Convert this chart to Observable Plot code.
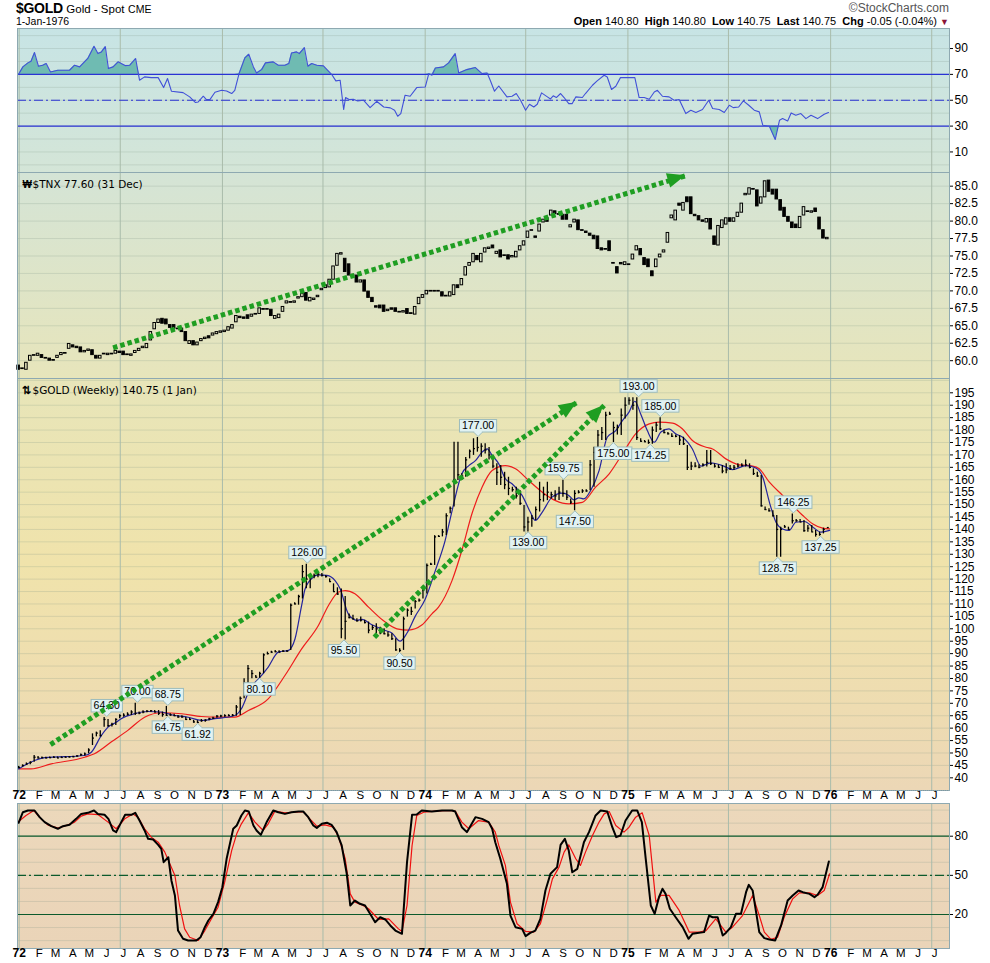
<!DOCTYPE html>
<html><head><meta charset="utf-8">
<script src="https://cdn.jsdelivr.net/npm/d3@7"></script>
<script src="https://cdn.jsdelivr.net/npm/@observablehq/plot@0.6"></script>
<style>
html,body{margin:0;padding:0;background:#fff;overflow:hidden;}
#chart{position:relative;width:990px;height:963px;font-family:"Liberation Sans",Arial,sans-serif;color:#000;}
.hdr{position:absolute;white-space:pre;}
</style></head>
<body><div id="chart">
<div class="hdr" style="left:16px;top:0px;font:bold 14px 'Liberation Sans',Arial;letter-spacing:-0.3px">$GOLD <span style="font:11.5px 'Liberation Sans',Arial;letter-spacing:0">Gold - Spot</span> <span style="font:10.5px 'Liberation Sans',Arial;letter-spacing:0">CME</span></div>
<div class="hdr" style="left:16px;top:15px;font:10.5px 'Liberation Sans',Arial">1-Jan-1976</div>
<div class="hdr" style="right:41px;top:1px;font:12px 'Liberation Sans',Arial;color:#555">©StockCharts.com</div>
<div class="hdr" style="right:41px;top:15px;font:11px 'Liberation Sans',Arial"><b>Open</b> 140.80  <b>High</b> 140.80  <b>Low</b> 140.75  <b>Last</b> 140.75  <b>Chg</b> -0.05 (-0.04%) <span style="color:#8b1538;font-size:9px">▼</span></div>
</div>
<script>
// ---------------- DATA ----------------
const yearLabels = ["72","73","74","75","76"];
const monthLetters = ["J","F","M","A","M","J","J","A","S","O","N","D"];
const rsiTicks = [10,30,50,70,90];
const stochTicks = [20,50,80];
const tnxTicks = [60,62.5,65,67.5,70,72.5,75,77.5,80,82.5,85];
const goldTicks = [40,45,50,55,60,65,70,75,80,85,90,95,100,105,110,115,120,125,130,135,140,145,150,155,160,165,170,175,180,185,190,195];

// weekly gold (Friday bars from 31-Dec-1971), index 0..208
const goldHigh = [44.6,45.2,46.0,46.5,49.0,48.6,48.4,48.3,48.4,48.5,48.4,48.4,48.5,48.6,48.7,49.0,49.6,50.0,51.7,57.7,58.4,59.0,64.3,63.5,62.0,63.8,65.4,65.8,66.2,67.0,70.0,66.5,67.0,67.1,67.1,67.1,67.1,66.5,68.75,65.8,65.6,65.1,65.0,64.4,64.0,63.1,63.0,63.5,63.4,64.0,64.4,65.1,65.2,
65.4,65.4,65.5,69.1,72.5,79.9,85.2,83.2,81.2,82.5,89.9,90.6,91.0,91.3,91.2,91.3,91.3,110.0,110.5,113.5,125.5,126.0,121.0,122.1,122.8,122.3,121.5,120.1,118.1,116.5,116.0,113.0,106.0,105.5,104.0,104.7,103.4,102.7,101.3,102.0,100.6,100.0,98.7,98.0,96.0,92.0,104.7,108.0,108.7,111.4,112.0,116.0,
126.1,126.4,137.5,137.5,140.0,146.3,149.0,175.1,175.1,162.4,169.0,172.0,176.5,177.0,174.5,174.5,173.0,169.8,166.4,165.7,163.0,161.0,157.0,157.0,155.6,149.6,144.9,145.6,149.0,159.0,157.0,159.0,155.0,155.6,157.0,159.75,155.6,152.3,155.6,155.6,156.0,156.0,167.7,173.1,179.8,181.0,187.2,187.2,183.2,182.0,188.5,193.0,193.0,193.0,193.0,
176.5,175.8,176.0,181.2,183.0,185.0,180.0,179.0,178.5,178.0,177.8,177.1,173.8,167.0,166.8,166.0,166.4,171.8,171.8,166.4,166.0,165.7,166.4,165.7,165.7,166.4,166.4,168.0,166.4,164.4,163.0,161.7,149.0,148.3,147.5,145.6,140.9,141.6,140.9,146.25,144.0,144.0,143.6,141.6,141.6,139.6,138.9,140.5,140.8];
const goldLow = [43.6,44.3,45.0,45.3,46.3,47.6,47.7,47.7,47.8,47.9,47.8,47.8,48.0,48.0,48.1,48.3,48.6,48.8,49.7,53.0,56.5,56.4,60.4,60.4,60.5,61.1,63.8,64.4,64.9,65.1,65.1,65.4,65.8,66.2,66.4,66.2,65.1,64.4,64.75,64.8,64.8,64.0,64.0,63.1,63.1,62.0,61.92,62.4,62.4,63.0,63.5,64.0,64.2,
64.4,64.6,64.6,64.8,65.1,71.8,77.2,79.9,80.3,80.1,81.9,89.5,90.2,90.4,90.4,90.5,90.6,91.3,109.7,109.5,112.0,116.1,116.1,120.1,120.5,120.8,120.4,118.8,114.7,113.5,96.0,95.5,104.0,103.5,102.7,102.7,102.0,98.0,99.3,98.0,97.6,97.6,96.6,95.3,91.0,90.5,91.3,104.7,105.4,108.0,110.7,112.0,
114.0,125.5,125.5,136.9,137.0,137.6,146.3,149.0,159.7,159.7,161.0,168.4,169.8,171.1,169.1,170.4,168.0,164.4,157.7,157.7,156.0,153.6,155.0,152.3,149.6,139.0,139.0,140.9,143.6,147.0,151.0,151.6,152.3,151.6,151.6,153.0,151.6,150.0,147.5,154.3,154.5,155.0,155.6,157.0,167.7,175.8,175.8,185.9,175.0,178.0,177.8,184.5,190.0,188.0,175.8,
175.1,175.1,174.25,174.25,179.0,179.8,178.5,178.0,177.0,176.9,173.8,173.8,163.7,163.7,164.8,164.4,165.1,165.1,165.7,164.7,164.5,162.4,162.4,163.7,163.7,164.7,165.1,165.1,164.4,161.7,161.0,149.0,147.6,147.0,145.0,128.75,128.75,140.5,139.6,142.2,142.9,142.9,138.9,138.9,138.9,136.9,137.25,138.2,140.75];
const goldClose = [44.2,45.0,45.6,46.2,48.3,48.0,48.1,48.0,48.1,48.3,48.0,48.2,48.3,48.4,48.5,48.8,49.3,49.6,51.2,56.0,58.0,57.0,63.5,61.0,61.5,63.5,65.0,65.2,65.6,66.5,66.0,66.0,66.5,66.8,67.0,66.5,66.0,65.5,65.2,65.3,65.0,64.5,64.5,63.5,63.5,62.5,62.3,63.0,63.2,63.8,64.0,64.8,64.9,
65.0,65.1,65.2,68.5,72.0,78.0,84.0,82.0,80.5,82.0,89.5,90.0,90.6,90.8,90.6,91.0,91.0,109.5,110.0,113.0,123.0,120.0,120.5,121.5,122.0,121.5,121.0,119.0,115.0,114.0,100.0,103.0,104.5,104.0,103.2,103.5,102.5,99.5,100.5,100.0,98.5,98.0,97.5,96.0,91.5,91.3,104.0,107.5,107.0,111.0,111.5,115.5,
125.5,126.0,137.0,137.2,139.0,145.5,148.5,160.0,162.0,161.5,168.0,171.5,172.5,173.0,173.5,172.0,170.0,165.5,163.0,161.0,158.0,156.5,156.0,153.5,150.5,141.0,143.0,144.5,148.0,152.0,154.0,155.0,154.0,153.5,155.0,154.5,153.0,151.0,154.5,155.0,155.5,155.5,166.0,171.0,178.0,179.0,186.0,186.5,181.0,181.0,186.0,190.0,192.0,190.0,177.0,
175.5,175.3,175.0,180.0,182.0,180.5,179.0,178.5,177.5,177.5,176.0,174.5,165.0,165.5,165.5,165.0,166.0,167.0,166.5,165.5,165.0,163.5,164.0,164.5,165.0,165.5,165.8,166.0,165.0,162.5,161.5,149.5,148.0,147.5,145.5,140.0,140.0,141.0,140.0,143.5,143.5,143.0,139.5,140.5,139.0,138.0,138.0,140.0,140.75];

// weekly $TNX candles, index 0..208
const tnxOpen = [59.3,58.8,58.7,60.0,60.7,60.7,60.8,60.4,60.3,60.1,60.4,60.8,61.0,61.7,62.2,62.0,61.9,61.2,61.4,61.5,
60.7,60.3,60.9,60.8,61.0,61.0,61.3,61.3,60.9,60.7,61.1,61.4,61.8,61.8,62.9,64.5,65.4,66.0,65.9,65.1,
65.1,64.6,64.6,64.1,62.4,62.8,62.2,62.8,63.1,63.5,63.6,63.8,64.0,64.1,64.3,64.6,65.5,66.3,66.2,66.5,
66.3,66.6,66.7,67.4,67.3,67.3,66.0,66.1,67.0,68.2,68.4,68.3,68.9,69.1,69.7,68.5,68.7,69.1,70.1,70.4,
70.5,71.6,73.6,75.2,74.6,73.8,72.3,72.2,71.2,71.5,69.9,69.0,67.8,67.9,67.9,67.1,67.5,67.5,67.0,66.9,
67.4,66.8,66.6,68.1,69.0,69.5,69.9,70.0,69.9,69.8,69.2,69.2,69.4,70.8,70.8,72.2,73.6,74.1,75.0,74.1,
75.5,76.0,76.5,75.3,75.8,75.0,75.1,74.8,74.8,75.8,76.5,77.6,78.6,77.8,78.5,79.8,80.4,80.8,81.4,81.0,
80.9,80.9,79.1,79.8,80.1,78.7,78.5,78.2,77.9,77.8,76.1,76.0,77.1,74.0,73.4,74.0,73.7,73.8,74.5,75.8,
76.0,74.7,74.5,72.8,73.4,74.8,75.5,76.9,80.4,80.1,82.5,81.5,83.4,83.4,80.9,80.7,80.1,79.8,80.3,77.8,
76.5,79.0,79.5,80.4,79.9,80.6,81.2,83.7,83.8,84.6,84.4,82.5,83.4,85.8,84.5,84.5,83.0,81.9,80.6,79.8,
79.5,79.0,80.8,81.3,81.2,81.8,80.5,78.7,77.4];
const tnxClose = [58.7,58.9,59.7,60.7,60.8,61.0,60.4,60.3,60.0,60.0,60.7,61.1,61.1,62.4,61.9,61.8,61.2,61.4,61.6,60.8,
60.3,60.7,61.0,61.0,60.9,61.4,61.1,60.8,60.8,60.9,61.4,61.7,62.0,62.4,64.1,65.4,65.9,65.3,65.2,64.7,
64.6,64.5,64.1,62.8,62.8,62.2,62.6,63.1,63.3,63.2,63.9,64.1,64.2,64.3,64.8,65.1,66.4,66.1,66.0,66.0,
66.6,66.7,67.5,67.3,67.4,66.4,66.4,66.6,67.7,68.5,68.3,68.5,69.1,69.6,68.6,69.0,68.9,69.3,70.3,70.8,
71.6,73.5,75.3,75.4,72.7,72.2,72.2,71.2,71.5,69.9,69.0,68.4,67.6,67.5,67.0,67.3,67.3,67.0,66.9,67.1,
66.7,66.7,67.7,69.0,69.4,70.0,70.0,69.9,70.0,69.2,69.3,69.8,70.8,70.4,71.7,73.4,74.0,75.3,74.4,75.3,
76.1,76.2,76.1,75.6,74.8,75.1,74.5,75.0,75.6,76.4,77.1,78.5,78.7,77.6,79.5,80.2,79.9,81.5,81.0,80.9,
80.2,80.2,79.4,80.2,78.7,78.6,78.3,77.9,77.4,76.0,75.8,75.9,75.7,73.9,72.5,73.8,74.1,73.7,75.2,76.4,
75.1,73.7,73.4,72.1,74.5,75.2,75.8,78.3,80.8,81.5,82.2,82.6,82.7,81.0,80.7,80.1,79.9,80.3,78.8,76.6,
79.3,80.1,80.4,79.9,80.4,81.2,82.5,83.9,84.7,84.5,82.1,83.4,85.7,84.2,83.8,83.1,81.5,80.6,79.9,79.0,
79.0,80.6,82.0,81.4,81.4,81.3,78.8,77.5,77.6];

// indicator lines: [week index, value]
const rsiPts = [[0,70.1],[1.1,75.8],[2.4,78.9],[3.2,80.2],[4.1,86.9],[5.1,76.3],[6.2,77.1],[7.1,78.4],[8.2,71.9],[10.1,73.2],[13.1,73.2],[14.4,77.1],[15.7,75.8],[17.8,82.3],[19.4,91.8],[20.4,86.1],[21.3,87.4],[22.3,91.5],[23.1,74.5],[24.3,75.8],[25.6,79.7],[26.4,78.4],[27.4,76.8],[28.6,77.1],[30.1,82.3],[31.1,65.5],[32.4,68.1],[34.1,67.5],[35.9,67.5],[37.3,59.8],[38.3,66.8],[39.3,57.0],[42.3,55.9],[44.0,52.6],[45.5,48.2],[46.2,48.7],[47.5,53.1],[48.3,50.5],[49.2,50.5],[50.5,56.2],[52.2,57.7],[53.5,57.2],[54.8,55.2],[55.6,57.7],[56.7,70.6],[58.2,82.8],[59.2,85.6],[60.4,75.8],[61.2,71.1],[62.5,73.7],[63.5,78.9],[65.5,79.7],[66.8,77.1],[68.5,77.1],[69.5,78.4],[70.2,86.6],[71.5,87.4],[72.2,86.1],[73.5,90.7],[74.4,76.3],[75.4,78.4],[76.7,77.1],[78.4,76.6],[80.5,70.1],[81.6,65.0],[82.7,65.5],[83.6,42.8],[84.1,52.1],[85.0,50.5],[86.1,50.8],[87.2,49.5],[88.7,50.0],[90.4,44.3],[92.1,49.2],[93.9,44.8],[95.6,44.1],[96.7,42.3],[97.5,37.6],[98.3,39.7],[99.4,53.9],[100.7,53.1],[102.4,59.8],[104.6,60.3],[105.5,70.6],[106.3,69.3],[107.2,75.0],[109.3,75.8],[110.6,78.9],[112.3,86.1],[113.2,71.1],[115.3,73.7],[117.5,75.3],[119.2,70.6],[120.5,71.1],[121.3,65.5],[122.4,57.0],[123.5,61.0],[125.6,52.6],[126.9,53.1],[128.0,55.2],[129.1,50.0],[130.4,42.3],[131.4,46.9],[132.5,44.8],[133.4,46.9],[134.5,55.7],[136.0,52.6],[136.8,51.0],[137.5,53.4],[138.3,52.1],[139.4,55.2],[140.3,52.1],[141.5,47.4],[142.4,47.4],[143.3,52.6],[145.0,52.1],[145.8,55.2],[147.6,61.6],[148.8,65.0],[150.6,69.3],[151.4,68.0],[152.5,58.3],[153.6,60.8],[154.8,67.5],[156.1,67.5],[158.5,67.5],[159.6,52.1],[160.9,52.1],[162.2,50.8],[163.5,56.4],[164.3,57.7],[165.6,53.1],[167.3,52.6],[168.6,50.0],[169.9,50.5],[171.6,39.7],[172.9,42.3],[174.2,40.5],[175.9,42.8],[177.5,50.0],[178.5,43.6],[180.2,42.8],[181.5,40.5],[182.8,46.1],[183.8,44.3],[185.2,44.8],[186.4,49.5],[187.8,46.1],[189.2,42.3],[190.5,41.0],[191.4,30.7],[193.1,29.9],[194.6,19.6],[195.7,34.5],[196.5,35.8],[197.8,34.0],[198.7,40.2],[199.9,38.4],[201.2,39.7],[202.5,35.8],[203.8,38.4],[205.5,35.8],[207.2,39.2],[208.3,40.5]];

const maFast = [[0,43.6],[4.1,47.0],[6.7,48.1],[17.0,49.0],[18.7,50.3],[21.3,57.1],[23.0,60.4],[25.1,62.4],[26.4,63.8],[29.8,65.8],[33.3,66.7],[36.7,66.5],[39.3,65.4],[43.6,64.4],[47.0,63.1],[50.5,63.8],[55.6,65.1],[57.3,67.8],[59.5,75.8],[62.1,80.5],[64.2,84.6],[66.8,90.6],[69.4,91.3],[71.1,96.0],[72.8,109.4],[73.7,116.1],[75.8,120.8],[77.1,121.7],[79.3,121.5],[81.4,119.4],[82.7,116.1],[84.8,106.0],[87.0,103.4],[88.3,103.8],[90.9,101.6],[94.3,99.3],[96.0,98.3],[98.1,95.0],[99.9,98.3],[102.0,105.0],[104.6,112.0],[107.2,123.5],[109.7,135.5],[111.5,147.6],[114.0,162.4],[115.8,165.7],[117.5,167.7],[119.2,171.1],[120.5,172.4],[121.8,169.8],[123.5,166.4],[125.2,160.4],[126.9,158.4],[129.5,153.7],[131.6,147.0],[132.9,143.6],[134.7,147.0],[137.2,153.0],[139.8,154.6],[141.5,153.7],[142.8,151.9],[144.1,152.7],[145.4,152.3],[147.1,155.6],[149.3,163.7],[151.4,177.1],[153.6,179.8],[155.3,183.8],[157.0,187.2],[158.5,191.6],[160.0,186.5],[161.7,179.8],[163.5,175.1],[165.2,179.2],[167.3,180.5],[169.0,178.5],[170.8,177.1],[173.3,172.4],[175.5,165.5],[178.0,166.8],[181.1,165.7],[183.6,164.1],[187.1,165.7],[189.6,164.7],[191.4,161.0],[193.1,151.0],[194.8,142.9],[196.5,140.2],[198.2,139.6],[199.9,142.9],[202.1,143.2],[204.3,140.9],[206.4,138.9],[208.6,139.6]];

const maSlow = [[0.2,43.6],[3.2,43.6],[8.4,45.6],[17.0,48.3],[19.5,49.7],[23.8,54.4],[28.1,59.1],[32.4,64.4],[36.7,66.2],[41.9,65.8],[47.0,64.7],[51.3,64.4],[55.6,64.4],[59.1,67.1],[64.2,71.8],[68.5,81.2],[72.8,91.9],[77.1,101.3],[79.7,109.4],[82.3,114.8],[84.0,115.4],[86.5,114.1],[90.0,108.7],[93.7,103.4],[97.3,100.0],[100.3,99.5],[103.7,101.5],[106.3,106.0],[108.0,108.7],[111.5,119.5],[114.0,131.5],[116.6,146.3],[119.2,157.0],[121.8,163.7],[125.2,165.7],[127.8,164.4],[131.2,159.7],[134.7,155.0],[138.1,151.6],[141.5,150.3],[145.0,150.9],[148.4,157.0],[151.9,162.4],[155.3,170.4],[158.7,178.5],[162.2,182.5],[164.7,183.2],[168.2,182.8],[170.7,180.5],[173.3,175.8],[176.8,173.1],[178.5,172.4],[181.9,168.4],[185.4,166.0],[188.8,165.5],[190.5,164.4],[193.1,159.0],[196.5,153.7],[199.1,149.6],[201.7,145.6],[204.3,142.2],[206.8,140.5],[208.6,140.2]];

const stochK = [[0,90.3],[1.1,98.4],[2.4,99.7],[4.1,99.7],[5.4,94.6],[6.7,90.8],[8.4,87.7],[10.1,85.7],[11.4,87.7],[13.1,88.7],[14.8,93.3],[16.1,97.1],[17.8,97.9],[19.4,99.7],[20.4,97.1],[22.1,96.4],[23.1,93.3],[24.3,84.4],[25.1,83.1],[26.4,90.8],[27.4,96.4],[29.0,96.4],[30.0,97.9],[31.1,92.0],[32.4,84.4],[33.3,78.0],[34.6,77.5],[35.9,73.4],[36.7,70.3],[37.3,60.1],[38.5,63.9],[39.3,46.1],[40.2,34.6],[41.0,7.7],[42.3,1.4],[43.6,0.1],[45.7,0.1],[46.8,2.6],[47.9,10.3],[48.8,15.4],[50.1,20.5],[51.3,29.5],[52.4,40.9],[53.5,62.7],[55.2,85.7],[56.1,88.2],[57.3,95.9],[58.2,99.7],[59.2,98.9],[60.4,88.2],[61.2,84.4],[62.3,81.0],[63.8,90.8],[65.5,99.7],[66.8,98.4],[68.5,97.1],[70.2,98.4],[72.0,98.9],[73.2,98.9],[74.5,94.6],[75.8,88.2],[76.7,86.4],[78.0,89.5],[79.3,90.3],[80.5,88.7],[81.8,83.1],[83.1,72.9],[84.4,51.2],[85.3,26.9],[86.5,30.7],[87.8,28.2],[89.1,26.9],[90.4,20.5],[91.7,14.1],[93.0,17.9],[94.3,16.2],[95.6,11.6],[96.9,7.7],[98.6,5.2],[99.9,60.1],[101.2,96.4],[102.4,96.6],[103.7,99.7],[106.3,98.9],[108.9,99.7],[111.5,99.7],[112.3,98.9],[114.0,86.9],[115.3,83.1],[117.5,94.6],[119.2,93.3],[120.9,90.8],[121.8,85.7],[122.6,75.4],[123.9,62.7],[125.6,43.5],[126.5,19.2],[127.8,10.3],[129.5,9.0],[130.4,3.4],[131.6,5.9],[132.9,7.7],[134.2,16.7],[135.5,38.4],[136.8,51.2],[138.5,56.3],[139.4,73.4],[140.5,78.0],[141.5,69.0],[142.4,52.4],[143.7,55.0],[145.4,75.4],[146.7,83.1],[148.4,95.9],[149.7,99.7],[151.4,98.9],[152.7,86.9],[153.7,79.3],[154.8,80.5],[156.1,92.0],[157.8,99.7],[159.1,99.7],[160.3,90.8],[161.3,62.7],[162.6,26.9],[163.6,20.5],[164.7,33.3],[165.6,39.7],[166.4,35.8],[167.5,24.4],[169.0,17.9],[170.8,10.3],[172.3,1.4],[173.3,5.2],[174.6,5.9],[176.3,6.5],[177.6,19.2],[178.5,17.9],[179.8,17.9],[181.1,3.9],[181.9,5.9],[183.2,10.3],[184.5,20.5],[185.8,20.5],[187.1,37.1],[187.8,42.7],[188.8,38.4],[190.5,6.5],[191.8,1.9],[193.1,0.9],[194.6,0.1],[196.1,11.6],[197.8,30.7],[199.1,34.6],[200.6,38.4],[201.7,37.1],[203.4,35.8],[204.7,33.3],[205.5,35.1],[206.8,41.0],[208.4,60.6]];

const stochD = [[0,91.3],[1.9,95.9],[3.9,99.7],[5.8,93.3],[7.5,88.7],[10.1,86.2],[12.7,88.7],[14.4,90.8],[16.1,95.4],[17.8,97.1],[20.4,96.6],[23.0,90.8],[25.1,85.7],[27.3,93.3],[29.4,97.1],[30.7,94.6],[32.4,85.7],[34.1,79.3],[35.9,75.4],[37.6,67.8],[40.2,49.9],[41.4,26.9],[42.7,9.0],[44.0,2.6],[46.2,0.1],[47.9,7.7],[49.6,16.7],[51.3,25.6],[53.0,44.8],[54.8,69.0],[56.1,81.8],[57.3,89.5],[59.1,97.9],[60.8,90.8],[62.9,84.4],[64.2,89.5],[65.9,99.2],[68.5,97.9],[71.1,98.4],[73.2,98.9],[74.9,93.3],[76.7,87.7],[78.8,88.7],[81.0,86.9],[82.3,79.3],[84.0,62.7],[85.3,35.8],[86.5,29.5],[88.3,27.4],[90.0,24.4],[92.6,16.2],[95.2,16.7],[97.7,9.0],[98.6,7.0],[99.9,26.9],[101.2,72.9],[102.4,95.9],[104.2,98.4],[107.2,99.2],[110.6,99.7],[112.3,99.2],[114.0,90.8],[115.8,85.7],[118.3,92.0],[120.9,90.8],[122.6,83.1],[123.5,72.9],[125.2,57.6],[126.5,29.5],[128.2,12.9],[130.4,7.0],[132.5,6.5],[134.2,12.9],[136.0,32.0],[137.3,47.3],[139.0,56.3],[140.3,67.8],[141.5,73.4],[143.3,62.7],[144.5,57.6],[145.8,67.8],[147.6,80.5],[149.3,90.8],[150.6,97.1],[151.9,98.9],[153.6,88.2],[155.7,83.1],[157.0,86.9],[158.7,94.6],[160.4,97.9],[162.2,80.5],[163.9,29.5],[165.2,34.6],[167.3,34.6],[169.9,23.1],[172.5,6.5],[175.1,6.5],[176.8,7.7],[179.3,16.7],[181.9,6.5],[183.6,10.3],[186.2,19.2],[188.8,34.6],[190.5,19.2],[191.8,6.5],[193.5,0.9],[195.2,2.6],[196.9,17.9],[199.1,32.0],[200.8,36.6],[203.4,36.6],[205.5,34.6],[207.2,38.4],[208.6,51.2]];

// annotations (week index, value)
const tnxArrows = [{i1:24.3, v1:61.85, i2:171.6, v2:86.5}];
const goldArrows = [{i1:8.2, v1:53.4, i2:143.7, v2:191.2},{i1:91.5, v1:96.6, i2:150.6, v2:189.9}];
const callouts = [
 {t:"64.30", i:22.8, v:64.3, pos:"above"},
 {t:"70.00", i:30.7, v:70.0, pos:"above"},
 {t:"68.75", i:38.5, v:68.75, pos:"above"},
 {t:"64.75", i:38.5, v:64.75, pos:"below"},
 {t:"61.92", i:46.2, v:61.92, pos:"below"},
 {t:"80.10", i:62.1, v:80.10, pos:"below"},
 {t:"126.00", i:74.4, v:126.0, pos:"above"},
 {t:"95.50", i:83.8, v:95.5, pos:"below"},
 {t:"90.50", i:98.1, v:90.5, pos:"below"},
 {t:"177.00", i:118.3, v:177.0, pos:"above"},
 {t:"139.00", i:131.2, v:139.0, pos:"below"},
 {t:"159.75", i:140.3, v:159.75, pos:"above"},
 {t:"147.50", i:143.2, v:147.5, pos:"below"},
 {t:"175.00", i:153.1, v:175.0, pos:"below"},
 {t:"193.00", i:159.6, v:193.0, pos:"above"},
 {t:"174.25", i:162.6, v:174.25, pos:"below"},
 {t:"185.00", i:165.2, v:185.0, pos:"above"},
 {t:"128.75", i:195.4, v:128.75, pos:"below"},
 {t:"146.25", i:199.4, v:146.25, pos:"above"},
 {t:"137.25", i:206.4, v:137.25, pos:"below"}
];

// ---------------- BUILD ----------------
const chart = document.getElementById("chart");
const DAY = 864e5;
const START = Date.UTC(1971, 11, 31);
const wk = i => new Date(START + i * 7 * DAY);
const xDomain = [new Date(Date.UTC(1971, 11, 29)), new Date(Date.UTC(1976, 7, 2))];
const halfYears = d3.utcMonth.every(6).range(new Date(Date.UTC(1972,0,1)), new Date(Date.UTC(1976,7,1)));
const months = d3.utcMonth.range(new Date(Date.UTC(1972,0,1)), new Date(Date.UTC(1976,7,1))).map(d => ({
  date: d, year: d.getUTCMonth() === 0,
  label: d.getUTCMonth() === 0 ? yearLabels[d.getUTCFullYear() - 1972] : monthLetters[d.getUTCMonth()]
}));

const goldRows = goldHigh.map((h, i) => ({date: wk(i), high: h, low: goldLow[i], close: goldClose[i]}));
const tnxRows = tnxOpen.map((o, i) => ({date: wk(i), open: o, close: tnxClose[i]}));
const toRows = pts => pts.map(([i, v]) => ({date: wk(i), v}));

const GRID = "#7d9384", VGRID = "#a9bcab", FRAME = "#8ea9b1";
const GREEN = "#1f9e22";

function sc(scales, k) { return scales[k] || (scales.scales && scales.scales[k] && scales.scales[k].apply); }

function arrowHeads(list) {
  return (index, scales) => {
    const sx = sc(scales, "x"), sy = sc(scales, "y");
    const g = d3.create("svg:g");
    for (const a of list) {
      const x1 = sx(wk(a.i1)), y1 = sy(a.v1), x2 = sx(wk(a.i2)), y2 = sy(a.v2);
      const ang = Math.atan2(y2 - y1, x2 - x1), L = 18, hw = 7.5;
      const bx = x2 - L * Math.cos(ang), by = y2 - L * Math.sin(ang);
      const px = -Math.sin(ang) * hw, py = Math.cos(ang) * hw;
      g.append("path").attr("d", `M${x2},${y2}L${bx + px},${by + py}L${bx - px},${by - py}Z`).attr("fill", GREEN);
    }
    return g.node();
  };
}
function arrowLinks(list) {
  return Plot.link(list, {
    x1: d => wk(d.i1), y1: "v1", x2: d => wk(d.i2), y2: "v2",
    stroke: GREEN, strokeWidth: 5, strokeDasharray: "4.5,3"
  });
}
function calloutMark(list) {
  return (index, scales) => {
    const sx = sc(scales, "x"), sy = sc(scales, "y");
    const g = d3.create("svg:g").attr("font-family", "'Liberation Sans', Arial, sans-serif").attr("font-size", 10.5);
    for (const c of list) {
      const x = sx(wk(c.i)), y = sy(c.v);
      const w = (c.t.length - 1) * 5.85 + 2.9 + 5, h = 12.5, gap = 5;
      const above = c.pos === "above";
      const top = above ? y - gap - h : y + gap;
      g.append("rect").attr("x", x - w / 2).attr("y", top).attr("width", w).attr("height", h)
        .attr("fill", "#e1f2f2").attr("stroke", "#9dbcbc").attr("stroke-width", 1);
      const py = above ? top + h : top;
      g.append("path").attr("d", `M${x - 4.5},${py}L${x},${above ? y - 0.5 : y + 0.5}L${x + 4.5},${py}`)
        .attr("fill", "#e1f2f2").attr("stroke", "#9dbcbc").attr("stroke-width", 1);
      g.append("path").attr("d", `M${x - 3.8},${py + (above ? -0.6 : 0.6)}L${x + 3.8},${py + (above ? -0.6 : 0.6)}`)
        .attr("stroke", "#e1f2f2").attr("stroke-width", 1.6);
      g.append("text").attr("x", x).attr("y", top + h - 2.6).attr("text-anchor", "middle").attr("fill", "#000").text(c.t);
    }
    return g.node();
  };
}
function monthAxis(dy) {
  return [
    Plot.text(months.filter(d => !d.year), {x: "date", text: "label", frameAnchor: "bottom", dy, dx: 3, fontSize: 11.5, fill: "#000"}),
    Plot.text(months.filter(d => d.year), {x: "date", text: "label", frameAnchor: "bottom", dy, fontSize: 12, fontWeight: "bold", fill: "#000"})
  ];
}
const yAxis = (ticks, fmt) => Plot.axisY(ticks, {anchor: "right", tickSize: 3, tickPadding: 2, fontSize: 12, label: null, tickFormat: fmt});

function makePanel({top, height, mb = 0, yDomain, bg, marks}) {
  const div = document.createElement("div");
  div.style.cssText = `position:absolute;left:17px;width:932px;top:${top}px;height:${height}px;background:${bg};`;
  chart.append(div);
  const svg = Plot.plot({
    width: 990, height: height + mb,
    marginLeft: 17, marginRight: 41, marginTop: 0, marginBottom: mb,
    x: {type: "utc", domain: xDomain, axis: null},
    y: {domain: yDomain, label: null},
    style: {background: "transparent", overflow: "visible", fontFamily: "'Liberation Sans', Arial, sans-serif", fontSize: "12px", color: "#000"},
    marks
  });
  svg.style.position = "absolute"; svg.style.left = "0px"; svg.style.top = top + "px";
  chart.append(svg);
}

// RSI panel
makePanel({
  top: 28, height: 144, yDomain: [-5.9, 105.5],
  bg: "linear-gradient(to bottom,#c7e4e5,#d4e5d7)",
  marks: [
    Plot.ruleY([0,10,20,30,40,50,60,70,80,90,100], {stroke: GRID, strokeOpacity: 0.22}),
    Plot.ruleX(halfYears, {stroke: VGRID}),
    Plot.areaY(toRows(rsiPts), {x: "date", y1: 70, y2: d => Math.max(70, d.v), fill: "#6fbbb2"}),
    Plot.areaY(toRows(rsiPts), {x: "date", y1: d => Math.min(30, d.v), y2: 30, fill: "#6fbbb2"}),
    Plot.ruleY([70, 30], {stroke: "#2a32d4", strokeWidth: 1.2}),
    Plot.ruleY([50], {stroke: "#2a32d4", strokeWidth: 1.2, strokeDasharray: "9,3,2,3"}),
    Plot.line(toRows(rsiPts), {x: "date", y: "v", stroke: "#4150d8", strokeWidth: 1.1}),
    Plot.frame({stroke: FRAME}),
    yAxis(rsiTicks)
  ]
});

// TNX panel
makePanel({
  top: 172, height: 206, yDomain: [57.45, 86.96],
  bg: "linear-gradient(to bottom,#d4e4d6,#e7e5bb)",
  marks: [
    Plot.ruleY(tnxTicks, {stroke: GRID, strokeOpacity: 0.22}),
    Plot.ruleX(halfYears, {stroke: VGRID}),
    Plot.rect(tnxRows.filter(d => d.close >= d.open), {x1: d => new Date(+d.date - 2.3 * DAY), x2: d => new Date(+d.date + 2.3 * DAY), y1: "open", y2: "close", fill: "none", stroke: "#000", strokeWidth: 1}),
    Plot.rect(tnxRows.filter(d => d.close < d.open), {x1: d => new Date(+d.date - 2.3 * DAY), x2: d => new Date(+d.date + 2.3 * DAY), y1: "open", y2: "close", fill: "#000", stroke: "#000", strokeWidth: 1}),
    arrowLinks(tnxArrows),
    arrowHeads(tnxArrows),
    Plot.text(["₩"], {frameAnchor: "top-left", dx: 5, dy: 8, fontSize: 10, fontWeight: "bold", textAnchor: "start", fill: "#000"}),
    Plot.text(["$TNX 77.60 (31 Dec)"], {frameAnchor: "top-left", dx: 15, dy: 8, fontFamily: "DejaVu Sans", fontSize: 10.5, textAnchor: "start", fill: "#000"}),
    Plot.frame({stroke: FRAME}),
    yAxis(tnxTicks, d => d.toFixed(1))
  ]
});

// GOLD panel
makePanel({
  top: 378, height: 412, mb: 14, yDomain: [34.9, 200.76],
  bg: "linear-gradient(to bottom,#e7e5b9,#f0e3ab 45%,#eedcb1 80%,#ecd7b6)",
  marks: [
    Plot.ruleY(goldTicks.concat([200]), {stroke: GRID, strokeOpacity: 0.22}),
    Plot.ruleX(halfYears, {stroke: VGRID}),
    Plot.line(toRows(maSlow), {x: "date", y: "v", stroke: "#ee1c1c", strokeWidth: 1.2, curve: "monotone-x"}),
    Plot.line(toRows(maFast), {x: "date", y: "v", stroke: "#24249e", strokeWidth: 1.2, curve: "monotone-x"}),
    Plot.ruleX(goldRows, {x: "date", y1: "low", y2: "high", stroke: "#000", strokeWidth: 1.3}),
    Plot.ruleY(goldRows, {x1: "date", x2: d => new Date(+d.date + 3.5 * DAY), y: "close", stroke: "#000", strokeWidth: 1.3}),
    calloutMark(callouts),
    arrowLinks(goldArrows),
    arrowHeads(goldArrows),
    Plot.text(["⇅"], {frameAnchor: "top-left", dx: 4, dy: 8, fontSize: 11, fontWeight: "bold", textAnchor: "start", fill: "#000"}),
    Plot.text(["$GOLD (Weekly) 140.75 (1 Jan)"], {frameAnchor: "top-left", dx: 15, dy: 8, fontFamily: "DejaVu Sans", fontSize: 10.5, textAnchor: "start", fill: "#000"}),
    Plot.frame({stroke: FRAME}),
    Plot.ruleY([34.9], {stroke: "#7f97a0", strokeDasharray: "1,1"}),
    yAxis(goldTicks),
    ...monthAxis(8)
  ]
});

// Stochastic panel
makePanel({
  top: 803, height: 145, mb: 15, yDomain: [-6.05, 105.06],
  bg: "linear-gradient(to bottom,#ecd8bb,#ead4b8)",
  marks: [
    Plot.ruleY([0,10,20,30,40,50,60,70,80,90,100], {stroke: GRID, strokeOpacity: 0.22}),
    Plot.ruleX(halfYears, {stroke: VGRID}),
    Plot.ruleY([80, 20], {stroke: "#0c5a2c", strokeWidth: 1.2}),
    Plot.ruleY([50], {stroke: "#0c5a2c", strokeWidth: 1.2, strokeDasharray: "9,3,2,3"}),
    Plot.line(toRows(stochD), {x: "date", y: "v", stroke: "#f01010", strokeWidth: 1.2}),
    Plot.line(toRows(stochK), {x: "date", y: "v", stroke: "#000", strokeWidth: 2}),
    Plot.frame({stroke: FRAME}),
    yAxis(stochTicks),
    ...monthAxis(8)
  ]
});
</script>
</body></html>
